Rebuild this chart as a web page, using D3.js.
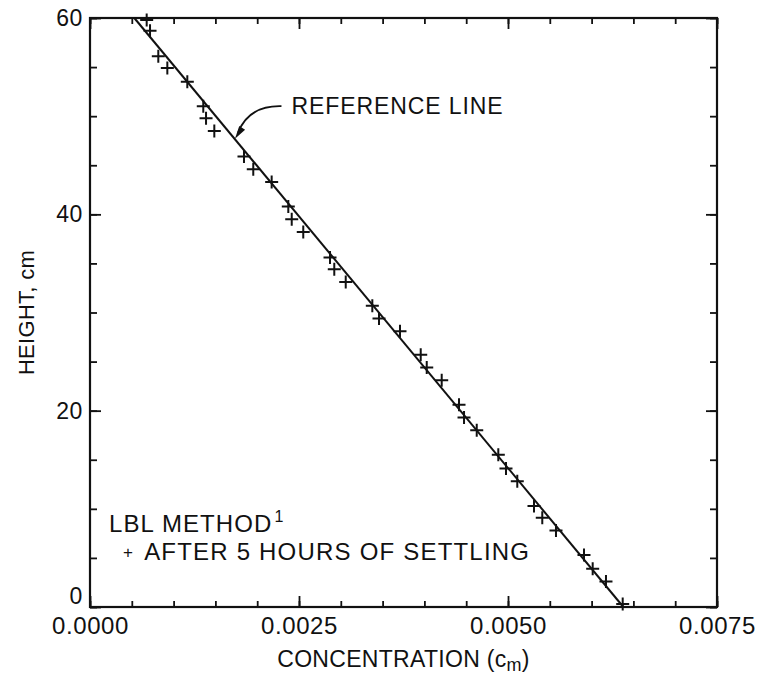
<!DOCTYPE html>
<html>
<head>
<meta charset="utf-8">
<script src="https://cdn.jsdelivr.net/npm/d3@7"></script>
<style>
  html, body { margin: 0; padding: 0; background: #fff; }
  text { font-family: "Liberation Sans", Arial, Helvetica, sans-serif; fill: #111; }
</style>
</head>
<body>
<svg id="chart" width="759" height="678"></svg>
<script>
// ---- data ----
const concentration = [0.000678, 0.000718, 0.000817, 0.000925, 0.001164, 0.001355, 0.001388, 0.001487,
  0.001842, 0.001953, 0.002173, 0.002372, 0.002413, 0.002551, 0.002871, 0.002922, 0.003059,
  0.003377, 0.003457, 0.003708, 0.003956, 0.004028, 0.004207, 0.004414, 0.004474, 0.004626,
  0.004884, 0.004976, 0.005111, 0.005311, 0.005410, 0.005574, 0.005909, 0.006013, 0.006172, 0.006372];
const heightCm = [59.8, 58.7, 56.1, 54.9, 53.5, 51.0, 49.8, 48.5,
  45.9, 44.6, 43.3, 40.8, 39.5, 38.2, 35.6, 34.4, 33.1,
  30.7, 29.4, 28.1, 25.7, 24.4, 23.1, 20.6, 19.3, 18.0,
  15.5, 14.1, 12.8, 10.3, 9.1, 7.8, 5.3, 3.9, 2.6, 0.3];
const refLineX = [0.00053, 0.00638];
const refLineY = [60, 0];
const xTicks = [0, 0.0025, 0.005, 0.0075];
const xMinorTicks = d3.range(0, 0.00751, 0.0005);
const yTicks = [0, 20, 40, 60];
const yMinorTicks = d3.range(0, 61, 5);
const annotTip = [0.001734, 47.7];     // arrow tip on reference line
const annotText = [0.00241, 50.2];     // label anchor
const annotLabel = "REFERENCE LINE";
const legendTitle = "LBL METHOD";
const legendItem = "AFTER 5 HOURS OF SETTLING";

// ---- layout ----
const W = 759, H = 678;
const m = { left: 90, right: 42, top: 18, bottom: 71 };
const svg = d3.select("#chart");
const x = d3.scaleLinear().domain([0, 0.0075]).range([m.left, W - m.right]);
const y = d3.scaleLinear().domain([0, 60]).range([H - m.bottom, m.top]);

function styleAxis(g, size) {
  g.select(".domain").remove();
  g.selectAll(".tick line").attr("stroke", "#111").attr("stroke-width", 1.8);
  g.selectAll(".tick text").style("font-size", size || "24px").style("letter-spacing", "0.6px");
}

// minor ticks (all four sides)
styleAxis(svg.append("g").attr("transform", `translate(0,${y(0)})`)
  .call(d3.axisBottom(x).tickValues(xMinorTicks).tickSize(-6).tickFormat("")));
styleAxis(svg.append("g").attr("transform", `translate(0,${y(60)})`)
  .call(d3.axisTop(x).tickValues(xMinorTicks).tickSize(-6).tickFormat("")));
styleAxis(svg.append("g").attr("transform", `translate(${x(0)},0)`)
  .call(d3.axisLeft(y).tickValues(yMinorTicks).tickSize(-7).tickFormat("")));
styleAxis(svg.append("g").attr("transform", `translate(${x(0.0075)},0)`)
  .call(d3.axisRight(y).tickValues(yMinorTicks).tickSize(-7).tickFormat("")));

// major ticks
styleAxis(svg.append("g").attr("transform", `translate(0,${y(0)})`)
  .call(d3.axisBottom(x).tickValues(xTicks).tickSize(-11).tickPadding(10).tickFormat(d3.format(".4f"))));
styleAxis(svg.append("g").attr("transform", `translate(0,${y(60)})`)
  .call(d3.axisTop(x).tickValues(xTicks).tickSize(-11).tickFormat("")));
const axL = svg.append("g").attr("transform", `translate(${x(0)},0)`)
  .call(d3.axisLeft(y).tickValues(yTicks).tickSize(-11).tickPadding(7).tickFormat(d3.format("d")));
styleAxis(axL, "23px");
axL.selectAll(".tick").filter(d => d === 0).select("text").attr("dy", "-0.16em");
styleAxis(svg.append("g").attr("transform", `translate(${x(0.0075)},0)`)
  .call(d3.axisRight(y).tickValues(yTicks).tickSize(-11).tickFormat("")));

// frame
svg.append("rect")
  .attr("x", x(0)).attr("y", y(60))
  .attr("width", x(0.0075) - x(0)).attr("height", y(0) - y(60))
  .attr("fill", "none").attr("stroke", "#111").attr("stroke-width", 2.2);

// reference line
svg.append("line")
  .attr("x1", x(refLineX[0])).attr("y1", y(refLineY[0]))
  .attr("x2", x(refLineX[1])).attr("y2", y(refLineY[1]))
  .attr("stroke", "#111").attr("stroke-width", 2);

// data points (+)
const pts = d3.zip(concentration, heightCm);
const arm = 6.5;
svg.append("g").attr("stroke", "#111").attr("stroke-width", 2)
  .selectAll("path").data(pts).join("path")
  .attr("d", d => {
    const px = x(d[0]), py = y(d[1]);
    return `M${px - arm},${py}H${px + arm}M${px},${py - arm}V${py + arm}`;
  });

// annotation
const tx = x(annotTip[0]), ty = y(annotTip[1]);
const lx = x(annotText[0]), ly = y(annotText[1]);
const sx = lx - 10, sy = ly - 8;
svg.append("path")
  .attr("d", `M${sx},${sy} Q${tx + 14},${sy - 1} ${tx + 3},${ty - 6}`)
  .attr("fill", "none").attr("stroke", "#111").attr("stroke-width", 1.8);
(function () {
  const ang = Math.atan2(12, -8);
  const len = 13, half = 3.5;
  const bx = tx - len * Math.cos(ang), by = ty - len * Math.sin(ang);
  const nx = -Math.sin(ang) * half, ny = Math.cos(ang) * half;
  svg.append("path")
    .attr("d", `M${tx},${ty}L${bx + nx},${by + ny}L${bx - nx},${by - ny}Z`)
    .attr("fill", "#111");
})();
svg.append("text").attr("x", lx).attr("y", ly)
  .style("font-size", "23px").style("letter-spacing", "0.9px").text(annotLabel);

// legend
const lg = svg.append("text").attr("x", 109).attr("y", 532)
  .style("font-size", "24px").style("letter-spacing", "1.1px");
lg.append("tspan").text(legendTitle);
lg.append("tspan").attr("dx", 2).attr("dy", -10).style("font-size", "16px").text("1");
const li = svg.append("text").attr("x", 123).attr("y", 560)
  .style("font-size", "24px").style("letter-spacing", "1.2px");
li.append("tspan").style("font-size", "17px").attr("dy", -2).text("+");
li.append("tspan").attr("dx", 10).attr("dy", 2).text(legendItem);

// axis titles
const xt = svg.append("text").attr("x", (x(0) + x(0.0075)) / 2).attr("y", 667)
  .attr("text-anchor", "middle").style("font-size", "23px").style("letter-spacing", "0.3px");
xt.append("tspan").text("CONCENTRATION (c");
xt.append("tspan").attr("dy", 4).style("font-size", "18px").text("m");
xt.append("tspan").attr("dy", -4).text(")");

svg.append("text")
  .attr("transform", `translate(34,${(y(0) + y(60)) / 2}) rotate(-90)`)
  .attr("text-anchor", "middle").style("font-size", "22px").style("letter-spacing", "0.3px")
  .text("HEIGHT, cm");
</script>
</body>
</html>
